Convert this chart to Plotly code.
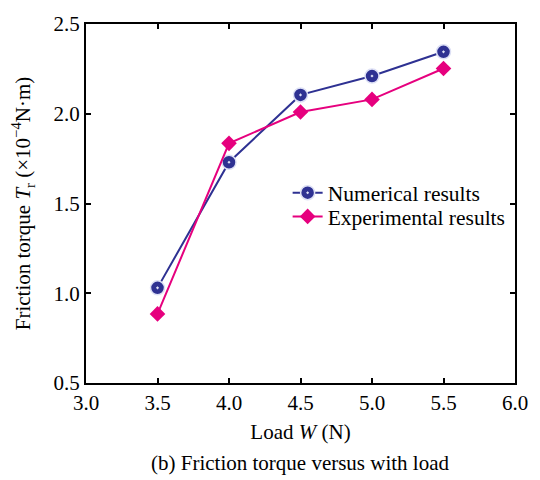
import plotly.graph_objects as go

load = [3.5, 4.0, 4.5, 5.0, 5.5]
numerical = [1.03, 1.73, 2.105, 2.21, 2.345]
experimental = [0.885, 1.835, 2.01, 2.08, 2.252]

x_ticks = [3.0, 3.5, 4.0, 4.5, 5.0, 5.5, 6.0]
y_ticks = [0.5, 1.0, 1.5, 2.0, 2.5]

navy = "#2e3192"
magenta = "#e6007e"
font = "Liberation Serif, Times New Roman, serif"
fs = 21

fig = go.Figure()
fig.add_trace(go.Scatter(
    x=load, y=numerical, mode="lines+markers", name="Numerical results",
    line=dict(color=navy, width=2), legend="legend",
    marker=dict(symbol="circle-dot", size=14, color=navy,
                line=dict(color="#dde0f5", width=1.5)),
))
fig.add_trace(go.Scatter(
    x=load, y=experimental, mode="lines+markers", name="Experimental results",
    line=dict(color=magenta, width=2), legend="legend2",
    marker=dict(symbol="diamond", size=12, color=magenta, line=dict(width=0)),
))

axis_common = dict(
    showline=True, linecolor="black", linewidth=2, mirror="ticks",
    ticks="inside", ticklen=5, tickwidth=1.5, tickcolor="black",
    showgrid=False, zeroline=False,
    tickfont=dict(family=font, size=fs, color="black"),
)

leg_common = dict(xanchor="left", yanchor="middle", bgcolor="rgba(0,0,0,0)", borderwidth=0,
                  font=dict(family=font, size=fs + 0.5, color="black"), itemwidth=30)

fig.update_layout(
    width=540, height=480,
    margin=dict(l=86, r=24, t=17, b=97),
    paper_bgcolor="white", plot_bgcolor="white",
    font=dict(family=font, color="black"),
    xaxis=dict(range=[3.0, 6.0], tickvals=x_ticks,
               ticktext=[f"{v:.1f}" for v in x_ticks],
               title=dict(text="Load <i>W</i> (N)", font=dict(family=font, size=fs), standoff=10),
               **axis_common),
    yaxis=dict(range=[0.5, 2.5], tickvals=y_ticks,
               ticktext=[f"{v:.1f}" for v in y_ticks],
               title=dict(text="Friction torque <i>T</i><sub>r</sub> (×10<sup>−4</sup>N·m)",
                          font=dict(family=font, size=fs), standoff=17),
               **axis_common),
    legend=dict(x=0.47, y=0.53, **leg_common),
    legend2=dict(x=0.47, y=0.464, **leg_common),
    showlegend=True,
)

fig.add_annotation(text="(b) Friction torque versus with load", xref="paper", yref="paper",
                   x=0.5, y=-0.222, xanchor="center", yanchor="middle", showarrow=False,
                   font=dict(family=font, size=fs, color="black"))

fig.write_html("out.html")
